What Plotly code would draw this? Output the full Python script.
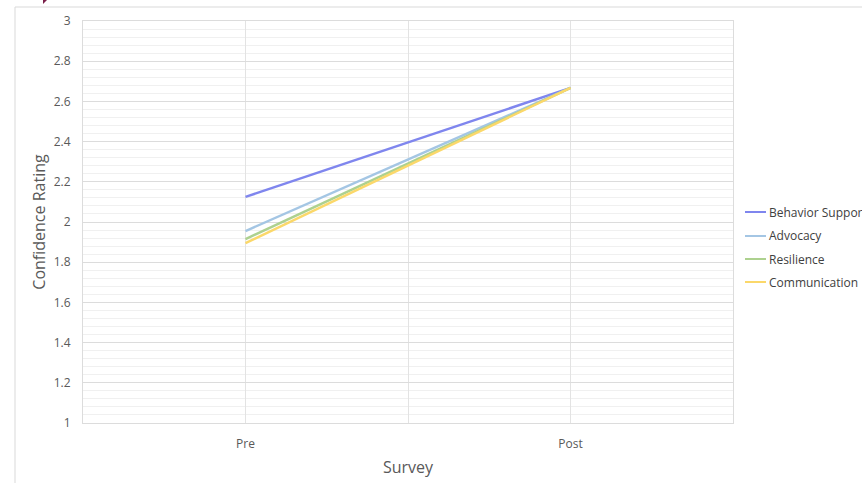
import plotly.graph_objects as go

surveys = ["Pre", "Post"]
series_names = ["Behavior Support", "Advocacy", "Resilience", "Communication"]
behavior_support = [2.125, 2.667]
advocacy = [1.955, 2.667]
resilience = [1.915, 2.667]
communication = [1.895, 2.667]
colors = ["#7f86ee", "#a4c6e4", "#add18f", "#fbd86a"]
y_ticks = [1, 1.2, 1.4, 1.6, 1.8, 2, 2.2, 2.4, 2.6, 2.8, 3]

values = [behavior_support, advocacy, resilience, communication]
xpos = list(range(len(surveys)))

fig = go.Figure()
for name, vals, c in zip(series_names, values, colors):
    fig.add_trace(go.Scatter(x=xpos, y=vals, mode="lines", name=name,
                             line=dict(color=c, width=2.4), showlegend=False))

font_family = "Open Sans, Liberation Sans, sans-serif"
W, H = 862, 483
L, R, T, B = 83, 129, 21, 60
pw, ph = W - L - R, H - T - B

def px(x):
    return (x - L) / pw

def py(y):
    return (H - B - y) / ph

shapes = [dict(type="rect", xref="paper", yref="paper",
               x0=px(15), x1=px(880), y0=py(495), y1=py(7),
               line=dict(color="#d9d9d9", width=1), layer="below"),
          dict(type="path", xref="paper", yref="paper",
               path="M %f,%f L %f,%f L %f,%f Z" % (px(43), py(0), px(47), py(0), px(43), py(4)),
               fillcolor="#7a1f4a", line=dict(width=0))]
annotations = []
leg_y = [212, 236, 259, 282]
for name, c, yy in zip(series_names, colors, leg_y):
    shapes.append(dict(type="line", xref="paper", yref="paper",
                       x0=px(745), x1=px(766), y0=py(yy), y1=py(yy),
                       line=dict(color=c, width=2)))
    annotations.append(dict(text=name, xref="paper", yref="paper",
                            x=px(767), y=py(yy), xanchor="left", yanchor="middle",
                            showarrow=False, font=dict(size=12, color="#404040")))

fig.update_layout(
    width=W, height=H,
    margin=dict(l=L, r=R, t=T, b=B, autoexpand=False),
    paper_bgcolor="white", plot_bgcolor="white",
    font=dict(family=font_family, color="#595959", size=12),
    showlegend=False,
    xaxis=dict(
        range=[-0.5, 1.5],
        tickvals=[-0.5, 0, 0.5, 1, 1.5],
        ticktext=["", surveys[0], "", surveys[1], ""],
        showgrid=True, gridcolor="#e3e3e3", gridwidth=1,
        zeroline=False, showline=True, linecolor="#dcdcdc", mirror=True,
        ticks="", tickfont=dict(size=12, color="#595959"),
        ticklabelstandoff=10, automargin=False,
        title=dict(text="Survey", font=dict(size=16, color="#595959"), standoff=10),
        fixedrange=True,
    ),
    yaxis=dict(
        range=[1, 3], tickvals=y_ticks,
        ticktext=[("%g" % v) for v in y_ticks],
        showgrid=True, gridcolor="#dcdcdc", gridwidth=1,
        minor=dict(dtick=0.04, tick0=1, showgrid=True, gridcolor="#f0f0f0", gridwidth=1),
        zeroline=False, showline=True, linecolor="#dcdcdc", mirror=True,
        ticks="", tickfont=dict(size=12, color="#595959"),
        ticklabelstandoff=9, automargin=False,
        title=dict(text="Confidence Rating", font=dict(size=16, color="#595959"), standoff=4),
        fixedrange=True,
    ),
    shapes=shapes,
    annotations=annotations,
)

fig.write_html("out.html", config={"displayModeBar": False},
               post_script="document.body.style.margin='0';document.body.style.overflow='hidden';")
